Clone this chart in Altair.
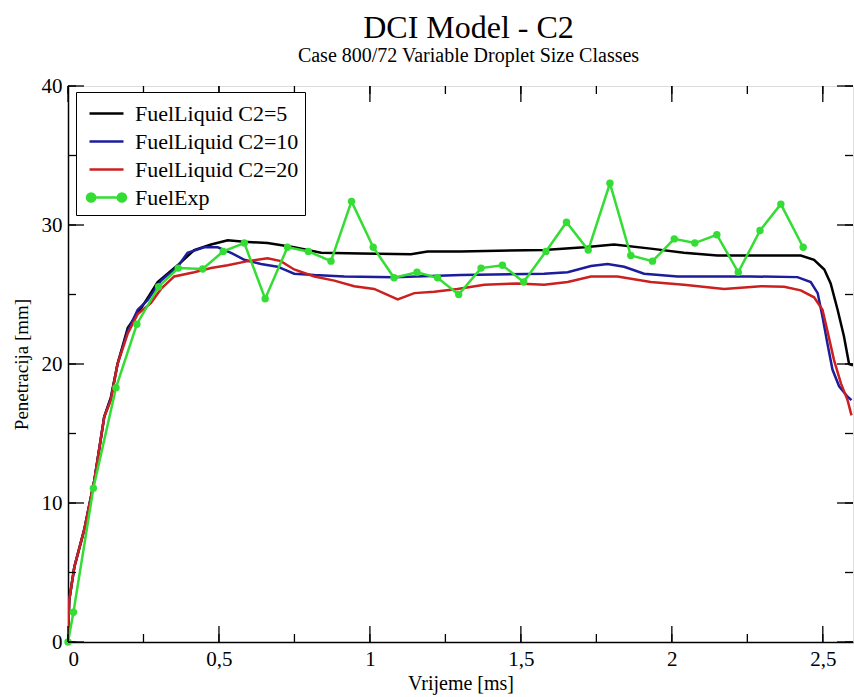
import altair as alt
import pandas as pd

# ---- data ----
series_names = ["FuelLiquid C2=5", "FuelLiquid C2=10", "FuelLiquid C2=20", "FuelExp"]
series_colors = ["#000000", "#1c1c9c", "#cc2020", "#33dd33"]
series_widths = [2.5, 2.5, 2.5, 1.0]

t_c5 = [0, 0.004, 0.021, 0.054, 0.087, 0.12, 0.142, 0.164, 0.198, 0.242, 0.297, 0.363, 0.418,
        0.474, 0.529, 0.584, 0.661, 0.749, 0.838, 0.97, 1.136, 1.191, 1.30, 1.577, 1.71, 1.809,
        1.93, 2.04, 2.151, 2.372, 2.427, 2.471, 2.505, 2.526, 2.549, 2.57, 2.587, 2.6]
v_c5 = [0, 3.0, 5.4, 8.1, 11.6, 16.2, 17.6, 20.0, 22.6, 24.0, 25.9, 27.1, 28.2,
        28.6, 28.9, 28.8, 28.7, 28.4, 28.0, 27.95, 27.9, 28.1, 28.1, 28.2, 28.4, 28.6,
        28.3, 28.0, 27.8, 27.8, 27.8, 27.5, 26.8, 25.8, 23.9, 22.0, 20.0, 19.9]

t_c10 = [0, 0.004, 0.021, 0.054, 0.087, 0.12, 0.142, 0.164, 0.198, 0.231, 0.264, 0.308, 0.363,
         0.396, 0.451, 0.496, 0.54, 0.584, 0.639, 0.694, 0.749, 0.816, 0.915, 1.08, 1.301, 1.577,
         1.655, 1.732, 1.787, 1.842, 1.908, 2.019, 2.262, 2.416, 2.46, 2.483, 2.499, 2.515, 2.532,
         2.554, 2.582, 2.595]
v_c10 = [0, 3.0, 5.4, 8.1, 11.6, 16.2, 17.5, 20.0, 22.4, 23.9, 24.6, 26.0, 27.0,
         28.0, 28.4, 28.4, 28.0, 27.5, 27.2, 27.0, 26.5, 26.4, 26.3, 26.25, 26.4, 26.5,
         26.6, 27.05, 27.2, 27.0, 26.5, 26.3, 26.3, 26.25, 25.9, 25.1, 23.4, 21.5, 19.6,
         18.4, 17.65, 17.4]

t_c20 = [0, 0.004, 0.021, 0.054, 0.087, 0.12, 0.142, 0.164, 0.198, 0.231, 0.275, 0.308, 0.352,
         0.418, 0.474, 0.529, 0.595, 0.661, 0.705, 0.749, 0.816, 0.882, 0.948, 1.014, 1.092,
         1.147, 1.213, 1.29, 1.379, 1.489, 1.577, 1.655, 1.732, 1.82, 1.93, 2.04, 2.173, 2.295,
         2.372, 2.427, 2.471, 2.499, 2.515, 2.537, 2.56, 2.582, 2.595]
v_c20 = [0, 3.0, 5.4, 8.1, 11.6, 16.2, 17.4, 20.0, 22.2, 23.6, 24.4, 25.4, 26.3,
         26.6, 26.9, 27.1, 27.4, 27.6, 27.4, 26.8, 26.3, 26.0, 25.6, 25.4, 24.65,
         25.1, 25.2, 25.4, 25.7, 25.8, 25.7, 25.9, 26.3, 26.3, 25.9, 25.7, 25.4, 25.6,
         25.55, 25.3, 24.8, 23.9, 22.4, 20.3, 18.6, 17.4, 16.3]

t_exp = [0, 0.018, 0.084, 0.159, 0.228, 0.30, 0.365, 0.446, 0.514, 0.584, 0.653, 0.727, 0.796,
         0.871, 0.939, 1.011, 1.08, 1.156, 1.224, 1.294, 1.368, 1.439, 1.509, 1.583, 1.651,
         1.723, 1.795, 1.864, 1.936, 2.008, 2.076, 2.149, 2.22, 2.292, 2.361, 2.435]
v_exp = [0, 2.14, 11.06, 18.3, 22.86, 25.56, 26.9, 26.83, 28.1, 28.7, 24.7, 28.4, 28.1,
         27.4, 31.7, 28.4, 26.2, 26.6, 26.2, 25.0, 26.9, 27.1, 25.9, 28.1, 30.2,
         28.2, 33.0, 27.8, 27.4, 29.0, 28.7, 29.3, 26.6, 29.6, 31.5, 28.4]

x_ticks = [0, 0.25, 0.5, 0.75, 1, 1.25, 1.5, 1.75, 2, 2.25, 2.5]
x_major = [0, 0.5, 1, 1.5, 2, 2.5]
y_ticks = [0, 5, 10, 15, 20, 25, 30, 35, 40]
y_major = [0, 10, 20, 30, 40]

W, H = 785, 556
SERIF = "Liberation Serif"

frames = []
for name, t, v in [(series_names[0], t_c5, v_c5), (series_names[1], t_c10, v_c10),
                   (series_names[2], t_c20, v_c20), (series_names[3], t_exp, v_exp)]:
    frames.append(pd.DataFrame({"t": t, "v": v, "series": name}))
df = pd.concat(frames, ignore_index=True)
df_exp = pd.DataFrame({"t": t_exp, "v": v_exp})

xscale = alt.Scale(domain=[0, 2.6], nice=False, zero=False)
yscale = alt.Scale(domain=[0, 40], nice=False)

line_path = "M-1.214,0L1.214,0"
exp_path = ("M-1.1,0L1.1,0"
            "M-1.39,0a0.29,0.29 0 1,0 0.58,0a0.29,0.29 0 1,0 -0.58,0"
            "M0.81,0a0.29,0.29 0 1,0 0.58,0a0.29,0.29 0 1,0 -0.58,0")

legend = alt.Legend(
    title=None, orient="none", legendX=8, legendY=6,
    strokeColor="black", fillColor="white", padding=6,
    labelFont=SERIF, labelFontSize=22, labelColor="black", labelOffset=13, labelLimit=400,
    symbolType=alt.ExprRef(expr="datum.label === 'FuelExp' ? '" + exp_path + "' : '" + line_path + "'"),
    symbolFillColor=alt.ExprRef(expr="datum.label === 'FuelExp' ? '#33dd33' : 'transparent'"),
    symbolStrokeWidth=alt.ExprRef(expr="datum.label === 'FuelExp' ? 1.2 : 2.5"),
    symbolSize=784, symbolOffset=9, symbolOpacity=1, rowPadding=1,
)

x_axis = alt.Axis(values=x_major, ticks=False, tickSize=0, grid=False, domainColor="black",
                  domainWidth=1.5, labelFont=SERIF, labelFontSize=21, labelColor="black",
                  labelPadding=6, labelExpr="replace(format(datum.value, '~g'), '.', ',')",
                  title="Vrijeme [ms]", titleFont=SERIF, titleFontSize=20,
                  titleFontWeight="normal", titleColor="black", titlePadding=4)
y_axis = alt.Axis(values=y_major, ticks=False, tickSize=0, grid=False, domainColor="black",
                  domainWidth=1.5, labelFont=SERIF, labelFontSize=21, labelColor="black",
                  labelPadding=6, title="Penetracija [mm]", titleFont=SERIF, titleFontSize=19,
                  titleFontWeight="normal", titleColor="black", titlePadding=10)

lines = alt.Chart(df).mark_line(clip=True).encode(
    x=alt.X("t:Q", scale=xscale, axis=x_axis),
    y=alt.Y("v:Q", scale=yscale, axis=y_axis),
    color=alt.Color("series:N", sort=series_names,
                    scale=alt.Scale(domain=series_names, range=series_colors), legend=legend),
    strokeWidth=alt.StrokeWidth("series:N", scale=alt.Scale(domain=series_names, range=series_widths),
                                legend=None),
    detail="series:N",
)

points = alt.Chart(df_exp).mark_circle(size=55, opacity=1, color="#33dd33").encode(
    x=alt.X("t:Q", scale=xscale),
    y=alt.Y("v:Q", scale=yscale),
)


def xtick_layer(vals, y0, y1):
    return alt.Chart(pd.DataFrame({"t": vals})).mark_rule(color="black", strokeWidth=1.3).encode(
        x=alt.X("t:Q", scale=xscale), y=alt.value(y0), y2=alt.value(y1))


def ytick_layer(vals, x0, x1):
    return alt.Chart(pd.DataFrame({"v": vals})).mark_rule(color="black", strokeWidth=1.3).encode(
        y=alt.Y("v:Q", scale=yscale), x=alt.value(x0), x2=alt.value(x1))


ticks = [
    xtick_layer(x_ticks, H, H - 8), xtick_layer(x_major, H, H - 16),
    xtick_layer(x_ticks, 0, 8), xtick_layer(x_major, 0, 16),
    ytick_layer(y_ticks, 0, 8), ytick_layer(y_major, 0, 16),
    ytick_layer(y_ticks, W, W - 8), ytick_layer(y_major, W, W - 16),
]

chart = alt.layer(lines, points, *ticks).properties(
    width=W, height=H,
    autosize=alt.AutoSizeParams(type="none"),
    padding={"left": 68, "top": 86, "right": 1, "bottom": 55},
    title=alt.TitleParams(
        text="DCI Model - C2", subtitle="Case 800/72 Variable Droplet Size Classes",
        font=SERIF, fontSize=32, fontWeight="normal", color="black",
        subtitleFont=SERIF, subtitleFontSize=20, subtitleColor="black",
        anchor="middle", offset=8, dx=8, subtitlePadding=1,
    ),
).configure_view(stroke="black", strokeWidth=1.5).configure(background="white")

chart.save("out.html", embed_options={"renderer": "svg", "actions": False})
